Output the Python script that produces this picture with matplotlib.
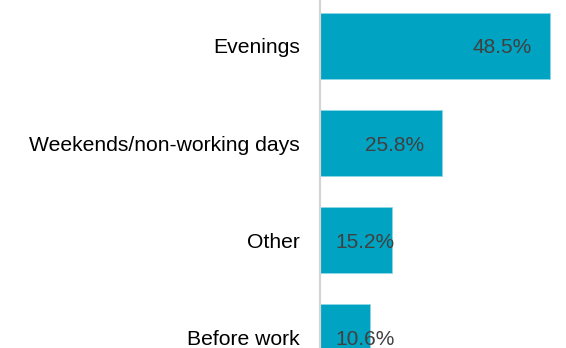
import matplotlib
matplotlib.use("Agg")
import matplotlib.pyplot as plt

categories = ["Evenings", "Weekends/non-working days", "Other", "Before work"]
values = [48.5, 25.8, 15.2, 10.6]
value_labels = ["48.5%", "25.8%", "15.2%", "10.6%"]

plt.rcParams['font.family'] = ['Liberation Sans', 'DejaVu Sans']

fig = plt.figure(figsize=(5.66, 3.48), dpi=100)
ax = fig.add_axes([320 / 566, 0, 246 / 566, 1])

pos = list(range(len(categories)))
ax.barh(pos, values, height=0.68, color="#00A3C1", edgecolor="#8fd6e6", linewidth=0.6)

ax.set_xlim(0, 51.9)
ax.set_ylim(3.113, -0.474)

for p, v, lab in zip(pos, values, value_labels):
    x = max(v - 3.75, 15.8)
    ax.text(x, p, lab, ha="right", va="center_baseline", fontsize=15, color="#404040")

ax.set_yticks(pos)
ax.set_yticklabels(categories, fontsize=15.2, color="#000000")
ax.tick_params(axis="y", length=0, pad=14.4)
ax.set_xticks([])
for s in ["top", "right", "bottom"]:
    ax.spines[s].set_visible(False)
ax.spines["left"].set_color("#d4d4d4")
ax.spines["left"].set_linewidth(1.6)

fig.savefig("out.png", dpi=100)
